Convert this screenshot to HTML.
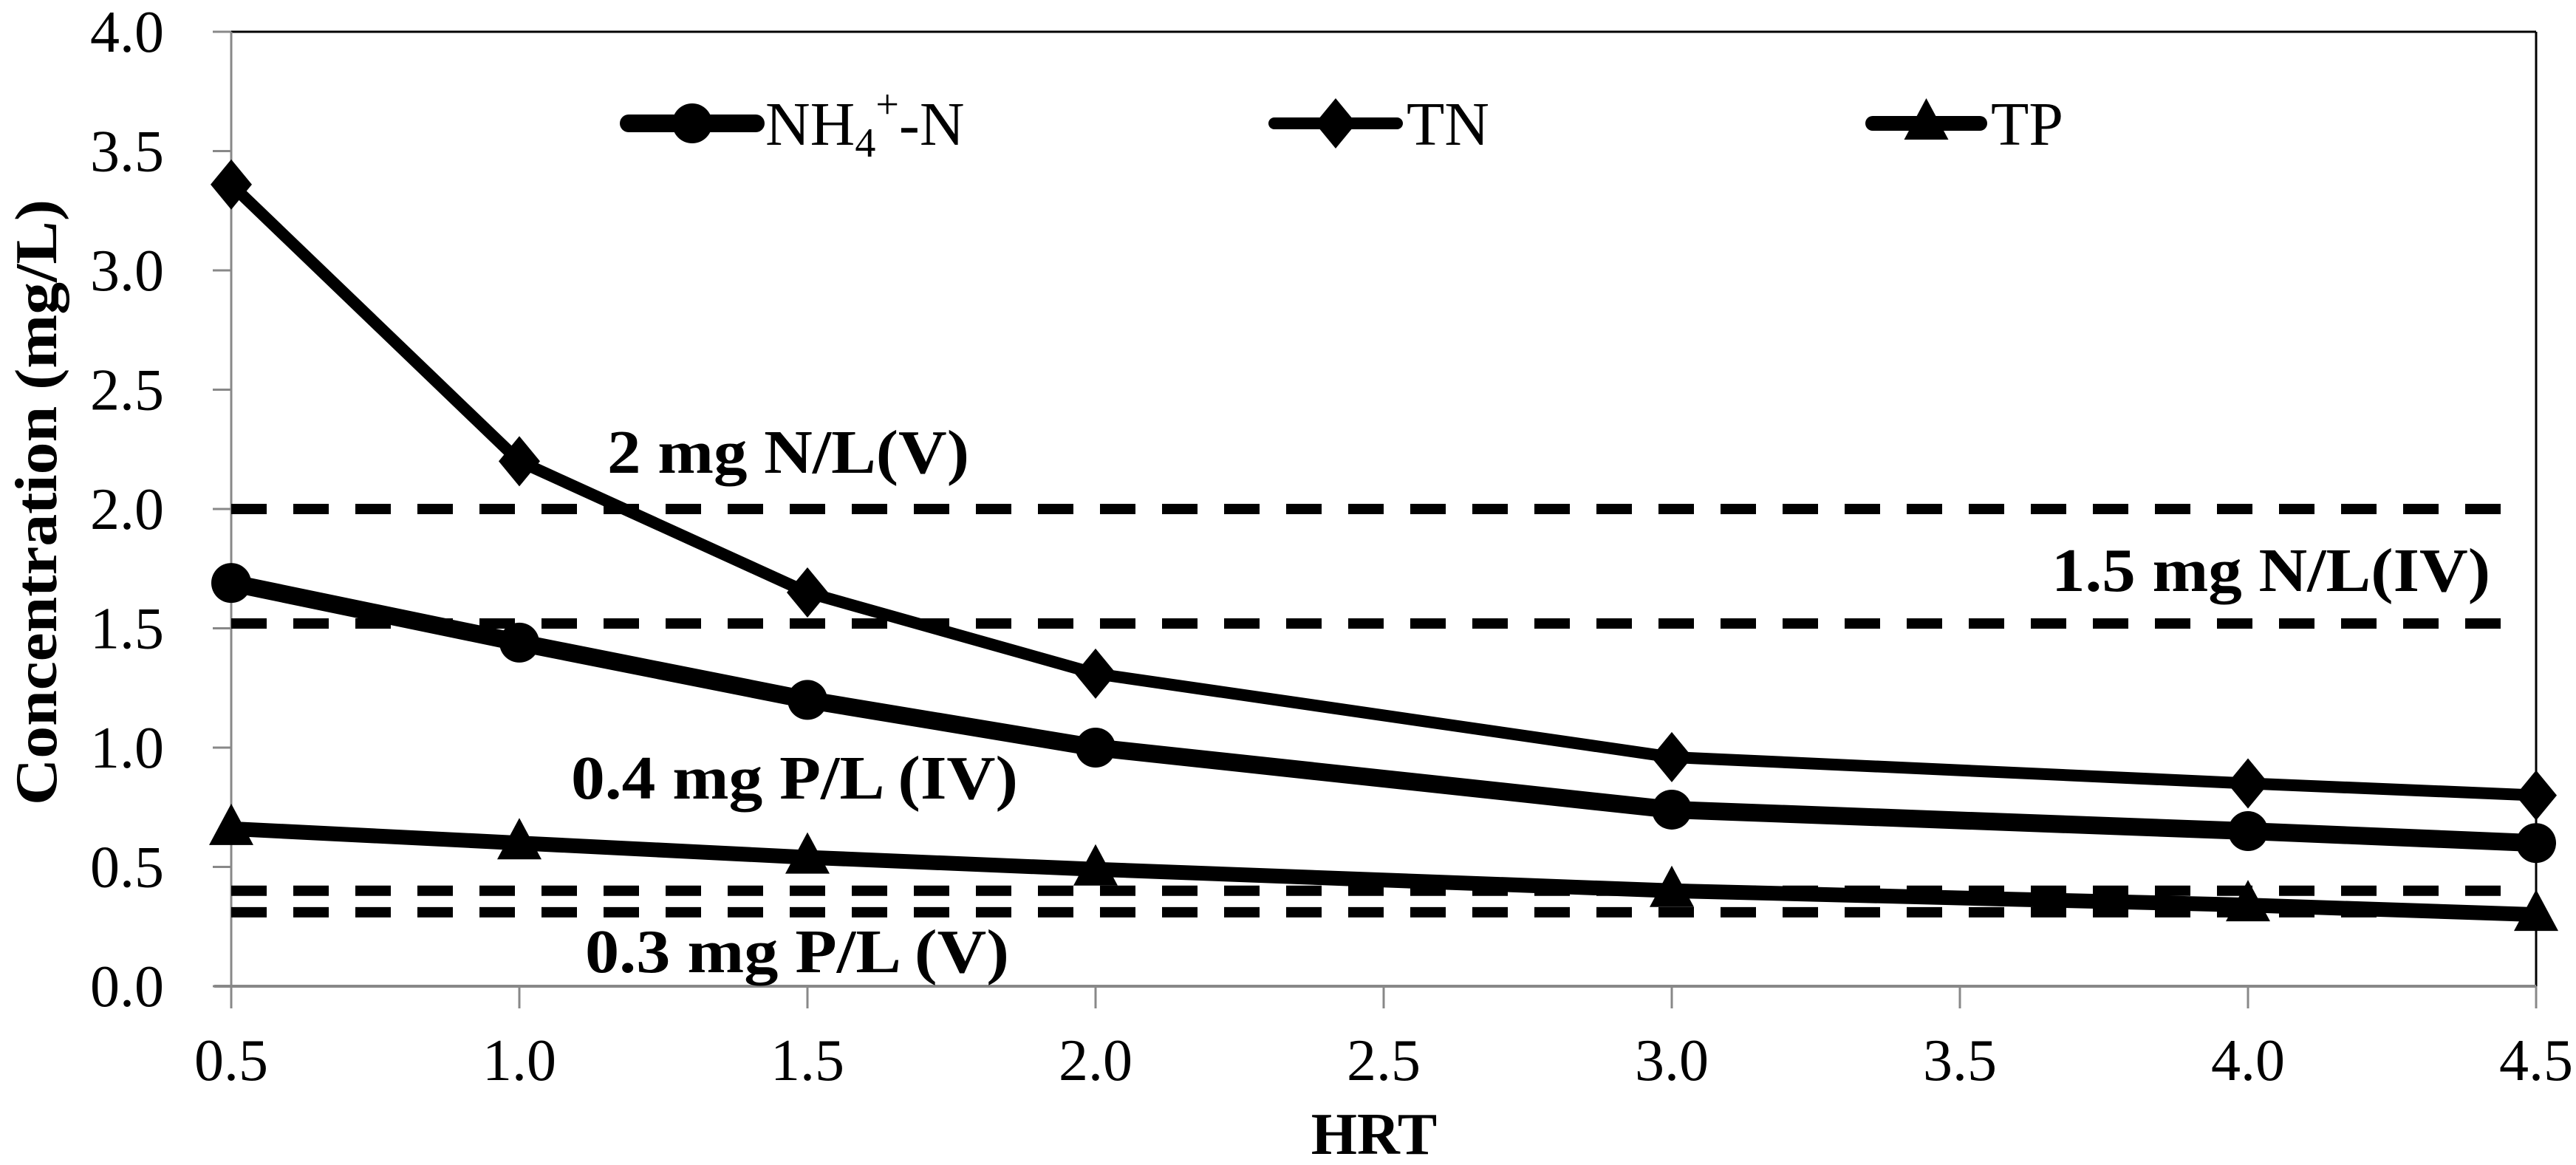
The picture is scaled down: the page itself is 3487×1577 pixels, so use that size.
<!DOCTYPE html>
<html><head><meta charset="utf-8"><style>
html,body{margin:0;padding:0;background:#fff}
svg{display:block}
text{font-family:"Liberation Serif",serif;fill:#000}
</style></head><body>
<svg id="chart" xmlns="http://www.w3.org/2000/svg" width="3487" height="1577" viewBox="0 0 3487 1577">
<g id="axes"></g>
<g id="refs"></g>
<g id="series"></g>
<g id="legend"></g>
<text x="1860" y="1562" font-size="80" font-weight="bold" text-anchor="middle">HRT</text>
<text transform="translate(76,680) rotate(-90)" font-size="80" font-weight="bold" text-anchor="middle" textLength="820" lengthAdjust="spacingAndGlyphs">Concentration (mg/L)</text>
</svg>
<script>
const hrt = [0.5, 1.0, 1.5, 2.0, 3.0, 4.0, 4.5];
const nh4 = [1.69, 1.44, 1.20, 1.00, 0.74, 0.65, 0.60];
const tn = [3.36, 2.20, 1.65, 1.31, 0.96, 0.85, 0.80];
const tp = [0.66, 0.60, 0.54, 0.49, 0.40, 0.34, 0.30];
const xTicks = ["0.5","1.0","1.5","2.0","2.5","3.0","3.5","4.0","4.5"];
const yTicks = ["0.0","0.5","1.0","1.5","2.0","2.5","3.0","3.5","4.0"];
const refValues = [2.0, 1.52, 0.40, 0.31];
const refLabels = ["2 mg N/L(V)","1.5 mg N/L(IV)","0.4 mg P/L (IV)","0.3 mg P/L (V)"];

const X0=313, X1=3433, Y0=1335, Y1=43;
const xs = v => X0 + (v-0.5)/(4.0)*(X1-X0);
const ys = v => Y0 - v/4.0*(Y0-Y1);
const NS="http://www.w3.org/2000/svg";
function mk(tag, attrs, parent){const e=document.createElementNS(NS,tag);for(const k in attrs)e.setAttribute(k,attrs[k]);parent.appendChild(e);return e;}
const axes=document.getElementById('axes');
let fr=mk('line',{x1:290,y1:Y1,x2:X1,y2:Y1,stroke:'#000','stroke-width':3},axes);


fr=mk('line',{x1:X1,y1:Y1,x2:X1,y2:Y0,stroke:'#000','stroke-width':3},axes);


let ax=mk('line',{x1:X0,y1:Y1,x2:X0,y2:Y0+28,stroke:'#888','stroke-width':3},axes);


ax=mk('line',{x1:290,y1:Y0,x2:X1,y2:Y0,stroke:'#888','stroke-width':4},axes);


yTicks.forEach((t)=>{const v=parseFloat(t);const y=ys(v);
 const l=mk('line',{x1:288,y1:y,x2:X0,y2:y,stroke:'#888','stroke-width':3},axes);
 
 
 const tx=mk('text',{x:222,y:y+27,'font-size':80,'text-anchor':'end'},axes);tx.textContent=t;
 
 
});
xTicks.forEach((t)=>{const v=parseFloat(t);const x=xs(v);
 const l=mk('line',{x1:x,y1:Y0,x2:x,y2:Y0+30,stroke:'#888','stroke-width':3},axes);
 
 
 const tx=mk('text',{x:x,y:1462,'font-size':80,'text-anchor':'middle'},axes);tx.textContent=t;
 
 
});
const refs=document.getElementById('refs');
const refLabelPos=[[822,640,490],[2777,800,594],[773,1081,605],[792,1316,574]];
refValues.forEach((v,i)=>{
 const l=mk('line',{x1:X0,y1:ys(v),x2:3410,y2:ys(v),stroke:'#000','stroke-width':14,'stroke-dasharray':'48 36'},refs);
 
 
 const p=refLabelPos[i];
 const t=mk('text',{x:p[0],y:p[1],'font-size':84,'font-weight':'bold',textLength:p[2],lengthAdjust:'spacingAndGlyphs'},refs);t.textContent=refLabels[i];
 
 
});
function marker(type,x,y,parent){
 let m;
 if(type==='circle') m=mk('circle',{cx:x,cy:y,r:27,fill:'#000'},parent);
 else if(type==='diamond') m=mk('polygon',{points:`${x},${y-34} ${x+28},${y} ${x},${y+34} ${x-28},${y}`,fill:'#000'},parent);
 else m=mk('polygon',{points:`${x},${y-34} ${x+30},${y+22} ${x-30},${y+22}`,fill:'#000'},parent);
 return m;
}
const series=document.getElementById('series');
const defs=[[tn,'diamond',16,'tn'],[nh4,'circle',24,'nh4'],[tp,'triangle',20,'tp']];
defs.forEach(d=>{
 const pts=hrt.map((h,i)=>xs(h)+','+ys(d[0][i])).join(' ');
 const pl=mk('polyline',{points:pts,fill:'none',stroke:'#000','stroke-width':d[2],'stroke-linejoin':'round'},series);
 
 
 hrt.forEach((h,i)=>{const m=marker(d[1],xs(h),ys(d[0][i]),series);
  
  });
});
const lg=document.getElementById('legend');
const leg=[[851,1023,'circle',24,'legend-nh4'],[1725,1891,'diamond',16,'legend-tn'],[2535,2680,'triangle',20,'legend-tp']];
const LY=167;
leg.forEach(l=>{
 const ln=mk('line',{x1:l[0],y1:LY,x2:l[1],y2:LY,stroke:'#000','stroke-width':l[3],'stroke-linecap':'round'},lg);
 
 
 const m=marker(l[2],(l[0]+l[1])/2,LY,lg);
 
 
});
let t=mk('text',{x:1036,y:196,'font-size':84},lg);
t.innerHTML='NH<tspan font-size="56" dy="16">4</tspan><tspan font-size="56" dy="-52">+</tspan><tspan dy="36">-N</tspan>';


t=mk('text',{x:1904,y:196,'font-size':84},lg);t.textContent='TN';


t=mk('text',{x:2695,y:196,'font-size':84},lg);t.textContent='TP';


</script>
</body></html>
